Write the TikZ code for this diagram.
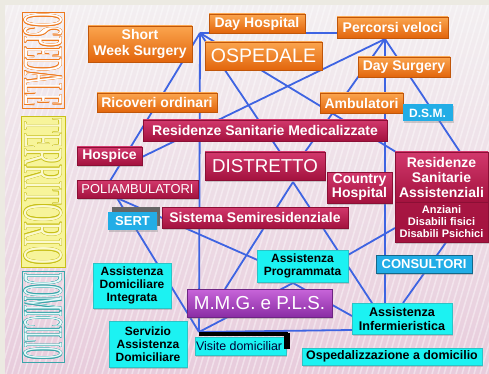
\documentclass[tikz,border=0pt]{standalone}
\usepackage{fontspec}
\setmainfont{Liberation Sans}
\newfontfamily\serifc{Liberation Serif}
\usetikzlibrary{shadows,calc}
\pgfdeclarelayer{bgpic}
\pgfdeclarelayer{lines}
\pgfsetlayers{bgpic,lines,main}
\definecolor{beige}{HTML}{ECEAE2}
\definecolor{bgT}{HTML}{F3EFF1}
\definecolor{bgB}{HTML}{E8CCDC}
\definecolor{linec}{HTML}{3E64E2}
\definecolor{orT}{HTML}{FBA54E}
\definecolor{orB}{HTML}{E2650C}
\definecolor{crT}{HTML}{D2386C}
\definecolor{crB}{HTML}{A3123E}
\definecolor{puT}{HTML}{C865DA}
\definecolor{puB}{HTML}{8A2DA4}
\definecolor{blc}{HTML}{22ADE6}
\definecolor{cyc}{HTML}{1CF2F2}
\definecolor{cyb}{HTML}{2BC4C6}
\definecolor{ospO}{HTML}{EE7A1E}
\definecolor{terY}{HTML}{C8C018}
\definecolor{terF}{HTML}{F7F49A}
\definecolor{domT}{HTML}{3AA6AA}
\definecolor{domF}{HTML}{E4FAFA}
\newcommand\vword[6]{%
  \foreach \ang in {0,45,...,315}
    \node[inner sep=0, text=#4, rotate=-90] at ([shift={(\ang:0.42pt)}]#1) {\resizebox*{#2}{#3}{\serifc #6}};
  \node[inner sep=0, text=#5, rotate=-90] (#1w) at (#1) {\resizebox*{#2}{#3}{\serifc #6}};
}
\tikzset{
  base/.style={inner sep=0pt, align=center, text=white,
    drop shadow={shadow xshift=1.2pt, shadow yshift=-1.5pt, opacity=0.35}},
  sz/.style 2 args={minimum width=#1, minimum height=#2},
  obox/.style={base, top color=orT, bottom color=orB, draw=orB!85!black, line width=0.4pt,
    font=\bfseries\fontsize{14}{16}\selectfont},
  cbox/.style={base, top color=crT, bottom color=crB, draw=crB!85!black, line width=0.4pt,
    font=\bfseries\fontsize{14}{15}\selectfont},
  bbox/.style={base, fill=blc, font=\bfseries\fontsize{13}{14}\selectfont},
  ybox/.style={base, fill=cyc, draw=cyb, line width=0.5pt, text=black,
    font=\bfseries\fontsize{12}{13}\selectfont},
  conn/.style={draw=linec, line width=1.8pt},
}
\begin{document}
\begin{tikzpicture}[x=1pt,y=-1pt]
\useasboundingbox (0,0) rectangle (489,374);
\begin{pgfonlayer}{bgpic}
  \fill[beige] (0,0) rectangle (489,374);
  \shade[top color=bgT, bottom color=bgB] (5,6) rectangle (489,374);
  \begin{scope}
    \clip (5,6) rectangle (489,374);
    \foreach \i in {-120,-114,...,500}
      \draw[white, opacity=0.4, line width=1.5pt] (\i,374) -- ++(110,-370);
  \end{scope}
\end{pgfonlayer}

% left vertical words
\draw[ospO, line width=0.6pt] (22,12) rectangle (64,108);
\fill[terF] (21,116) rectangle (65,267);
\draw[terY, line width=0.6pt] (21,116) rectangle (65,267);
\draw[domT, line width=0.6pt] (22,271) rectangle (64,362);
\coordinate (wO) at (43,60);
\coordinate (wT) at (43,191.5);
\coordinate (wD) at (43,316.5);
\vword{wO}{92pt}{38pt}{ospO}{white}{OSPEDALE}
\vword{wT}{146pt}{38pt}{terY}{terF!50!white}{TERRITORIO}
\vword{wD}{86pt}{38pt}{domT}{domF}{DOMICILIO}

% orange
\node[obox, sz={104pt}{36pt}] (sws) at (140,44) {Short\\Week Surgery};
\node[obox, sz={96pt}{19pt}] (dh) at (257,23.5) {Day Hospital};
\node[obox, sz={117pt}{28pt}, font=\fontsize{19.5}{21}\selectfont] (osp) at (263.5,56) {OSPEDALE};
\node[obox, sz={111pt}{21pt}] (pv) at (392.5,27.5) {Percorsi veloci};
\node[obox, sz={92pt}{20pt}] (ds) at (404,67) {Day Surgery};
\node[obox, sz={83pt}{20pt}] (amb) at (361.5,103) {Ambulatori};
\node[obox, sz={120pt}{19pt}] (ric) at (157,102.5) {Ricoveri ordinari};
% blue
\node[bbox, sz={50pt}{17pt}, font=\bfseries\fontsize{12}{13}\selectfont] (dsm) at (427.5,113) {D.S.M.};
% crimson
\node[cbox, sz={244pt}{21pt}] (rsm) at (265,130.5) {Residenze Sanitarie Medicalizzate};
\node[cbox, sz={65pt}{18pt}] (hosp) at (109.5,156) {Hospice};
\node[cbox, sz={120pt}{28pt}, font=\fontsize{18.7}{21}\selectfont] (distr) at (265,166) {DISTRETTO};
\node[cbox, sz={121pt}{18pt}, font=\fontsize{12.9}{14}\selectfont] (poli) at (137.5,189) {POLIAMBULATORI};
\node[cbox, sz={65pt}{31pt}, font=\bfseries\fontsize{14}{14}\selectfont] (ch) at (359.5,187.5) {Country\\Hospital};
\node[cbox, sz={93pt}{50pt}] (rsa) at (441.5,177) {Residenze\\Sanitarie\\Assistenziali};
\node[cbox, sz={93pt}{40pt}, font=\bfseries\fontsize{11}{12}\selectfont, top color=crB!90!crT, bottom color=crB] (rsal) at (441.5,222) {Anziani\\Disabili fisici\\Disabili Psichici};
\node[cbox, sz={186pt}{21pt}] (sis) at (255,217.5) {Sistema Semiresidenziale};
% SERT with grey backing
\fill[gray!80!black] (112,207) rectangle (160,226);
\node[bbox, sz={49pt}{18pt}] (sert) at (132.5,221) {SERT};
% cyan
\node[ybox, sz={78pt}{45pt}] (adi) at (132,285.5) {Assistenza\\Domiciliare\\Integrata};
\node[ybox, sz={78pt}{46pt}] (sad) at (148,344) {Servizio\\Assistenza\\Domiciliare};
\node[ybox, sz={91pt}{18pt}, font=\fontsize{12.4}{13}\selectfont, text=black!80!blue] (vis) at (240.5,346) {Visite domiciliar\phantom{i}};
\fill[black] (199,332) rectangle (288,336);
\fill[black] (283.5,333) rectangle (290,349);
\node[base, sz={145pt}{28pt}, top color=puT, bottom color=puB, draw=puB!80!black, line width=0.4pt,
  font=\fontsize{18.8}{21}\selectfont] (mmg) at (259.5,303) {M.M.G. e P.L.S.};
\node[ybox, sz={91pt}{32pt}] (ap) at (302.5,266) {Assistenza\\Programmata};
\node[bbox, sz={96pt}{18pt}, draw=blc!60!black, line width=1pt] (cons) at (424,264) {CONSULTORI};
\node[ybox, sz={100pt}{31pt}, font=\bfseries\fontsize{12.6}{14}\selectfont] (ai) at (402,318.5) {Assistenza\\Infermieristica};
\node[ybox, sz={180pt}{17pt}, font=\bfseries\fontsize{12.4}{13}\selectfont] (od) at (392,356.5) {Ospedalizzazione a domicilio};

% connector coordinates
\coordinate (hA) at (200,33);
\coordinate (hB) at (385,39);
\coordinate (hV) at (199,332);
\coordinate (hD) at (293,182);
\coordinate (hP) at (293,283);
\coordinate (pT) at (110,181);
\coordinate (pB) at (117,198);
\coordinate (dT1) at (280,152);
\coordinate (dT2) at (305,152);
\coordinate (rT1) at (396,152);
\coordinate (rT2) at (460,152);
\coordinate (rL) at (395,228);
\coordinate (rB) at (447,241);
\coordinate (hR) at (142,157);
\coordinate (mT) at (225,289);
\coordinate (aiT) at (385,303);
\coordinate (aiTL) at (372,303);
\coordinate (aiT2) at (403,303);
\coordinate (aiL1) at (352,316);
\coordinate (aiL2) at (352,330);
\coordinate (apL) at (262,262);
\coordinate (apR) at (348,255);

\begin{pgfonlayer}{lines}
  \draw[conn] (hA) -- (hA -| pv.center);
  \draw[conn] (hA) -- (pT);
  \draw[conn] (hA) -- (hV);
  \draw[conn] (hA) -- (dT1);
  \draw[conn] (hA) -- (rT1);
  \draw[conn] (hB) -- (hR);
  \draw[conn] (hB) -- (dT2);
  \draw[conn] (hB) -- (aiT);
  \draw[conn] (hB) -- (rT2);
  \draw[conn] (hD) -- (mT);
  \draw[conn] (hD) -- (aiTL);
  \draw[conn] (pB) -- (apL);
  \draw[conn] (pB) -- (hV);
  \draw[conn] (rL) -- (apR);
  \draw[conn] (rB) -- (aiT2);
  \draw[conn] (hP) -- (aiL1);
  \draw[conn] (hV) -- (hP);
  \draw[conn] (hV) -- (aiL2);
\end{pgfonlayer}
\end{tikzpicture}
\end{document}
